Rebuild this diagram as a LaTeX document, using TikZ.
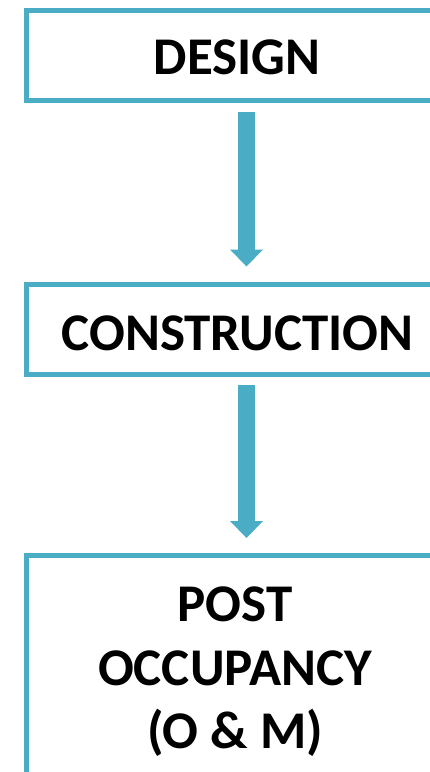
\documentclass[tikz,border=0pt]{standalone}
\usepackage{fontspec}
\setmainfont{Carlito}
\usetikzlibrary{arrows.meta}
\definecolor{aqua}{HTML}{4BACC6}
\begin{document}
\begin{tikzpicture}[x=1pt,y=-1pt,
  stagebox/.style={draw=aqua, line width=5pt, fill=white, rectangle, inner sep=0pt, outer sep=0pt, minimum width=413.5pt},
  stagetext/.style={font=\fontsize{53}{64}\selectfont\bfseries, anchor=base, inner sep=0pt, text=black},
  flow/.style={draw=aqua, line width=17pt, -{Triangle[width=33pt,length=17pt,line width=0pt]}}]
\useasboundingbox (0,0) rectangle (430,772);
\fill[white] (0,0) rectangle (430,772);
\clip (0,0) rectangle (430,772);
\node[stagebox, minimum height=90pt] (design) at (233.25,55) {};
\node[stagebox, minimum height=90pt] (cons) at (233.25,329.5) {};
\node[stagebox, minimum height=244.5pt] (post) at (233.25,677.75) {};
\node[stagetext] (t1) at (237,74) {DESIGN};
\node[stagetext] (t2) at (237.5,350) {CONSTRUCTION};
\node[stagetext] (t3) at (235,621) {POST};
\node[stagetext] (t4) at (235,685) {OCCUPANCY};
\node[stagetext] (t5) at (235,748) {(O \& M)};
\coordinate (ax) at (246.5,0);
\draw[flow, shorten <=12pt, shorten >=18pt] (design.south -| ax) -- (cons.north -| ax);
\draw[flow, shorten <=10.5pt, shorten >=17.5pt] (cons.south -| ax) -- (post.north -| ax);
\end{tikzpicture}
\end{document}
